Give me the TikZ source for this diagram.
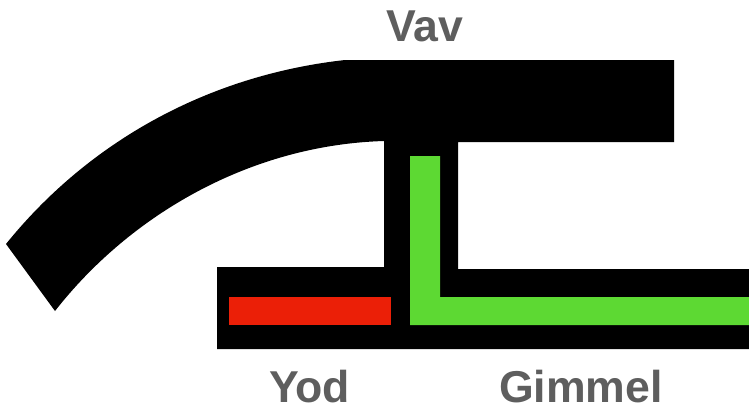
\documentclass[tikz,border=0pt]{standalone}
\usepackage{fontspec}
\setmainfont{Liberation Sans}
\definecolor{redbar}{HTML}{EB1F07}
\definecolor{greenbar}{HTML}{5DD933}
\definecolor{labelgray}{HTML}{5E5E5E}
\tikzset{
	partlabel/.style={text=labelgray,font=\fontsize{25.4}{28}\selectfont\bfseries,inner sep=0pt,anchor=base},
}
\begin{document}
\begin{tikzpicture}[x=0.02cm,y=-0.02cm]
	\useasboundingbox (0,0) rectangle (749,407);
	
	\fill[black] (6,244) .. controls (90,140) and (210,75) .. (345,60) -- (674,60) -- (674,142) -- (458,142) -- (458,269) -- (749,269) -- (749,349) -- (217,349) -- (217,267) -- (384,267) -- (384,141) .. controls (250,145) and (130,215) .. (55,311) -- cycle;
	
	\fill[redbar] (229,297) rectangle (391,325);
	\fill[greenbar] (410,156) -- (440,156) -- (440,297) -- (749,297) -- (749,325) -- (410,325) -- cycle;
	
	\node[partlabel] (vav) at (425,41) {Vav};
	\node[partlabel] (yod) at (309.5,402) {Yod};
	\node[partlabel] (gimmel) at (581,402) {Gimmel};
\end{tikzpicture}
\end{document}
